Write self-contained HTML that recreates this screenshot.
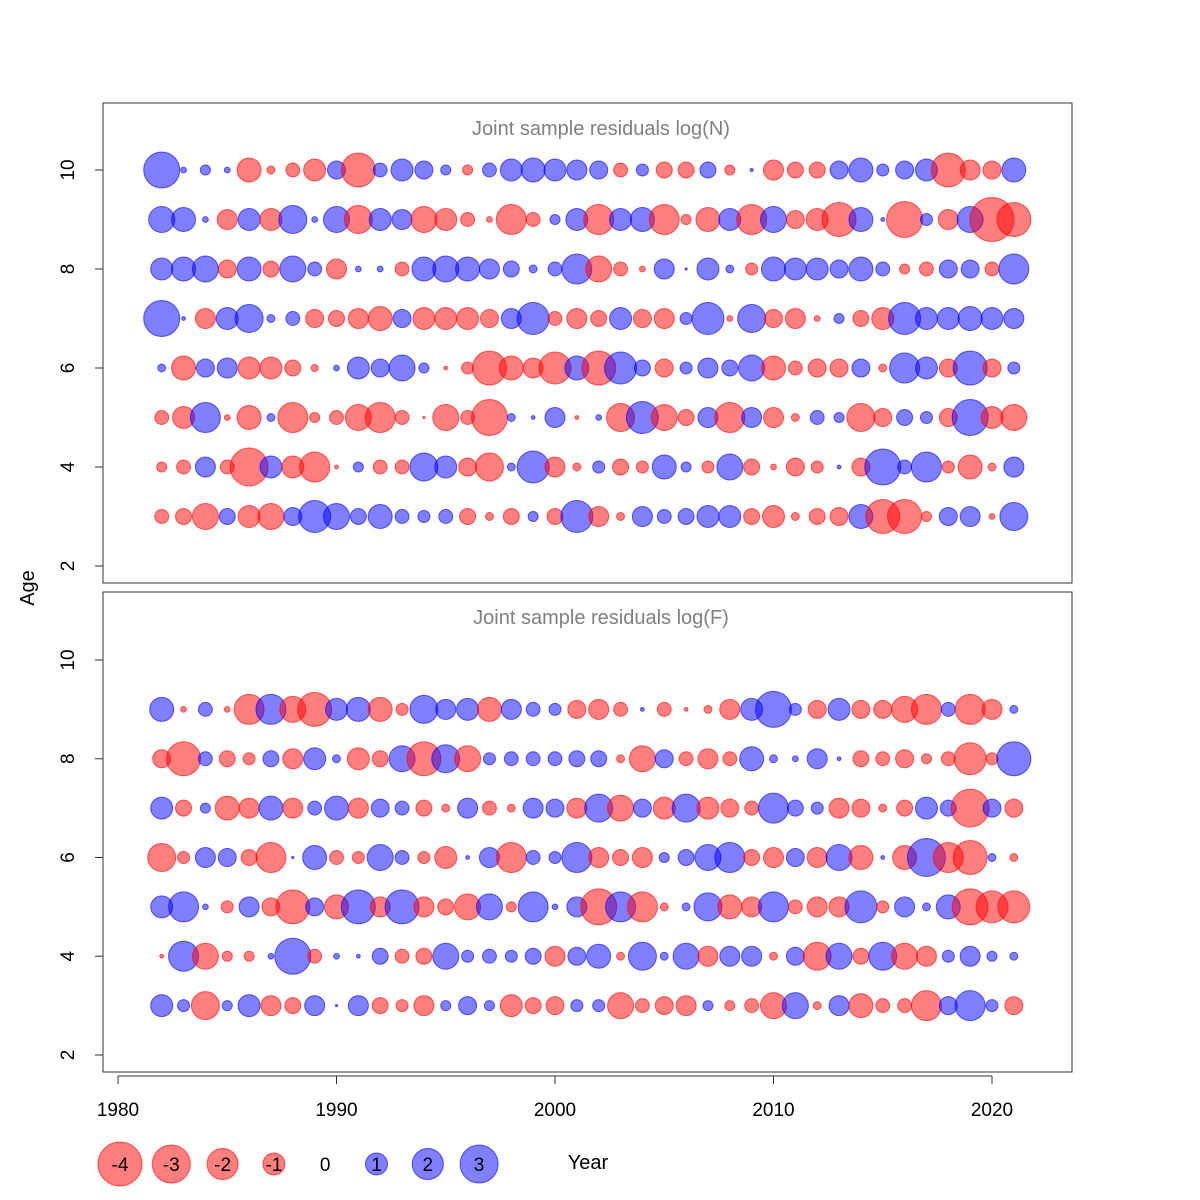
<!DOCTYPE html>
<html><head><meta charset="utf-8">
<style>
html,body{margin:0;padding:0;background:#fff;}
svg{display:block;font-family:"Liberation Sans",Arial,sans-serif;}
</style></head>
<body>
<svg id="chart" width="1200" height="1200" viewBox="0 0 1200 1200" xmlns="http://www.w3.org/2000/svg">
<rect width="1200" height="1200" fill="#fff"/>
<g id="panels"></g>
<text x="0" y="0" transform="translate(34,588) rotate(-90)" text-anchor="middle" font-size="20">Age</text>
<text x="588" y="1169" text-anchor="middle" font-size="20">Year</text>
<g id="legend"></g>
</svg>
<script>
const years = [];
for (let y = 1982; y <= 2021; y++) years.push(y);
const xTicks = [1980, 1990, 2000, 2010, 2020];
const yTicks = [2, 4, 6, 8, 10];
const legendValues = [-4, -3, -2, -1, 0, 1, 2, 3];

const resN10 = [2.68,0.07,0.21,0.07,-1.19,-0.13,-0.4,-1,0.67,-2.39,0.4,1,0.67,0.21,-0.21,0.4,1,1.19,1,0.83,0.67,-0.4,0.3,-0.53,-0.53,0.53,-0.21,0.02,-0.83,-0.53,-0.53,0.67,1.19,0.3,0.67,1,-2.39,-0.83,-0.67,1.19];
const resN9 = [1.4,1.19,0.07,-0.83,1,-1,1.62,0.07,1.4,-1.62,1,0.83,-1.4,-1,-0.4,-0.07,-1.86,-0.4,0.21,1,-1.86,1,1.19,-1.86,-0.21,-1.19,1,-1.86,1.4,-0.67,-1,-2.39,1.19,0.03,-2.68,0.3,-0.83,1.4,-4,-2.39];
const resN8 = [1,1.19,1.4,-0.67,1.19,-0.53,1.4,0.4,-0.83,0.07,0.07,-0.4,1.19,1.4,1.19,0.83,0.53,0.13,0.4,1.86,-1.4,-0.4,-0.07,0.83,0.01,1,0.13,-0.3,1.19,1,1,0.67,1.19,0.4,-0.21,-0.4,0.67,0.67,-0.4,1.86];
const resN7 = [2.68,0.03,-0.83,1,1.62,0.13,0.4,-0.67,-0.53,-0.83,-1.19,0.67,-1,-1,-1,-0.67,0.83,2.12,-0.4,-0.83,-0.53,1,-0.67,-0.83,0.3,2.12,-0.07,1.62,-0.67,-0.83,-0.07,0.21,-0.53,-1,2.12,1,1,1.19,1,0.83];
const resN6 = [0.13,-1.19,0.67,0.83,-1,-1,-0.53,-0.1,0.07,1,0.67,1.4,0.21,-0.03,-0.3,-2.39,-1.19,-0.83,-2.12,1.19,-2.39,2.12,0.53,-0.67,0.3,0.83,0.53,1.4,-1.19,-0.4,-0.67,-0.67,0.67,-0.13,1.86,1,-0.67,2.39,-0.67,0.3];
const resN5 = [-0.4,-1,1.86,-0.07,-1.19,0.13,-1.86,-0.21,-0.4,-1.4,-1.86,-0.4,-0.01,-1.4,-0.4,-2.68,0.13,0.03,0.83,-0.03,0.07,-1.62,2.12,-1.4,-0.53,0.83,-1.86,0.83,-0.83,-0.13,0.4,0.21,-1.62,-0.67,0.53,0.3,-0.67,2.68,-1,-1.4];
const resN4 = [-0.21,-0.4,0.83,-0.4,-2.98,1,-1,-1.86,-0.03,0.21,-0.4,-0.4,1.62,1,-0.67,-1.62,0.13,2.12,-0.83,-0.13,0.3,-0.53,-0.3,1.19,0.21,-0.3,1.4,-0.53,-0.07,-0.67,-0.3,0.03,-0.67,2.68,0.4,1.86,-0.3,-1.19,-0.13,0.83];
const resN3 = [-0.4,-0.53,-1.4,0.53,-1,-1.4,0.67,2.12,1.4,0.53,1.19,0.4,0.3,0.4,-0.53,-0.13,-0.53,0.21,-0.53,2.12,-0.83,-0.13,0.83,0.4,0.53,1,1,-0.53,-1,-0.13,-0.53,-0.67,1.19,-2.39,-2.39,-0.21,0.67,0.83,-0.07,1.62];

const resF9 = [1.19,-0.07,0.4,-0.07,-1.86,1.86,-1.4,-2.39,1,1.19,-1.19,-0.3,1.62,0.83,1,-1.19,0.83,0.4,0.3,-0.67,-0.83,-0.4,0.03,-0.4,-0.03,-0.13,-0.83,1,2.68,0.3,-0.67,1,-0.67,-0.67,-1.4,-1.86,0.4,-1.86,-0.83,0.13];
const resF8 = [-0.67,-2.39,0.4,-0.53,-0.3,0.53,-0.83,1,0.13,-1,-0.53,1.4,-2.39,1.62,-1.4,0.3,0.4,0.4,0.4,0.53,0.53,-0.13,-1.4,0.67,-0.4,-0.83,-0.4,1.19,0.13,0.07,0.83,0.03,-0.53,-0.4,-0.67,-0.21,-0.4,-2.12,-0.3,2.39];
const resF7 = [1,-0.53,0.21,-1.19,-0.83,1.19,-0.83,0.4,1.19,-0.83,0.67,0.4,-0.53,-0.13,0.83,-0.4,-0.13,0.83,0.67,-0.83,1.62,-1.4,0.67,-1,1.62,-1,-0.67,-0.4,1.86,0.53,0.3,-0.83,-0.67,-0.13,-0.53,1,0.53,-2.98,0.67,-0.67];
const resF6 = [-1.62,-0.3,0.83,0.67,-0.53,-1.86,0.01,1.19,-0.4,-0.3,1.4,0.4,-0.3,-1,0.03,0.83,-1.86,0.4,0.3,1.86,-0.83,-0.53,-0.83,0.21,0.53,1.4,1.86,-0.53,-0.83,0.67,-0.83,1.4,-1.19,0.03,-1.19,2.98,-1.86,-2.39,0.13,-0.13];
const resF5 = [1,1.86,0.07,-0.3,0.83,-0.67,-2.39,0.67,-1.19,2.39,-0.83,2.39,-0.83,-0.53,-1.4,1.4,-0.21,1.86,0.07,0.83,-2.68,1.86,-1.86,-0.13,0.13,1.62,-1.19,-0.83,1.86,-0.4,-0.83,-0.83,2.12,-0.3,0.83,0.13,1.19,-2.68,-2.12,-2.12];
const resF4 = [-0.03,1.86,-1.4,-0.21,-0.21,0.07,2.68,-0.4,0.07,0.03,0.53,-0.4,-0.53,1.4,0.3,0.4,0.3,0.53,-0.83,0.67,1.19,-0.13,1.62,0.13,1.4,-0.83,0.83,0.83,-0.13,0.67,-1.62,1.4,-0.53,1.62,-1.4,-0.83,0.3,0.83,0.21,0.13];
const resF3 = [1,0.3,-1.62,0.21,1,-0.83,-0.53,0.83,0.01,0.83,-0.53,-0.3,-0.83,0.21,0.67,0.21,-1,-0.53,-0.67,0.3,0.3,-1.4,-0.4,-0.67,-0.83,0.21,-0.21,-0.4,-1.4,1.4,-0.13,0.83,-1.19,-0.4,-0.4,-1.86,0.67,1.86,0.3,-0.67];

const panelN = [[10,resN10],[9,resN9],[8,resN8],[7,resN7],[6,resN6],[5,resN5],[4,resN4],[3,resN3]];
const panelF = [[9,resF9],[8,resF8],[7,resF7],[6,resF6],[5,resF5],[4,resF4],[3,resF3]];

const NS = "http://www.w3.org/2000/svg";
function mk(tag, attrs, parent) {
  const e = document.createElementNS(NS, tag);
  for (const k in attrs) e.setAttribute(k, attrs[k]);
  parent.appendChild(e);
  return e;
}
const xScale = yr => 118 + (yr - 1980) * (992 - 118) / 40;
const rScale = v => 11 * Math.sqrt(Math.abs(v));
const fillFor = v => v < 0 ? "rgba(255,0,0,0.5)" : "rgba(0,0,255,0.5)";
const strokeFor = v => v < 0 ? "rgba(255,0,0,0.6)" : "rgba(0,0,255,0.6)";

const root = document.getElementById("panels");
function drawPanel(top, bottom, y10, y2, title, rows, key) {
  const g = mk("g", {}, root);
  
  
  const yScale = a => y2 + (a - 2) * (y10 - y2) / 8;
  const box = mk("rect", {x:103, y:top, width:969, height:bottom-top, fill:"none", stroke:"#333", "stroke-width":1}, g);
  
  
  const t = mk("text", {x:601, y:top+32, "text-anchor":"middle", "font-size":20, fill:"#808080"}, g);
  t.textContent = title;
  
  
  yTicks.forEach(v => {
    const yy = yScale(v);
    const tk = mk("line", {x1:95, x2:103, y1:yy, y2:yy, stroke:"#333"}, g);
    
    
    const tl = mk("text", {x:0, y:0, transform:`translate(74,${yy}) rotate(-90)`, "text-anchor":"middle", "font-size":19}, g);
    tl.textContent = v;
    
    
  });
  rows.forEach(([age, vals]) => {
    vals.forEach((v, i) => {
      const c = mk("circle", {cx:xScale(years[i]), cy:yScale(age), r:rScale(v), fill:fillFor(v), stroke:strokeFor(v), "stroke-width":1}, g);
      
      
    });
  });
}
drawPanel(103, 583, 170, 566, "Joint sample residuals log(N)", panelN, "log-n");
drawPanel(592, 1072, 660, 1055, "Joint sample residuals log(F)", panelF, "log-f");

const ax = mk("g", {}, root);


mk("line", {x1:xScale(1980), x2:xScale(2020), y1:1076, y2:1076, stroke:"#333"}, ax);
xTicks.forEach(v => {
  const tk = mk("line", {x1:xScale(v), x2:xScale(v), y1:1076, y2:1084, stroke:"#333"}, ax);
  
  
  const tl = mk("text", {x:xScale(v), y:1116, "text-anchor":"middle", "font-size":19}, ax);
  tl.textContent = v;
  
  
});

const lg = document.getElementById("legend");
legendValues.forEach((v, i) => {
  const cx = 120 + i * 51.3, cy = 1164;
  if (v !== 0) {
    const c = mk("circle", {cx:cx, cy:cy, r:rScale(v), fill:fillFor(v), stroke:strokeFor(v)}, lg);
    
    
  }
  const t = mk("text", {x:cx, y:cy+7, "text-anchor":"middle", "font-size":19}, lg);
  t.textContent = v;
  
  
});
</script>
</body></html>
